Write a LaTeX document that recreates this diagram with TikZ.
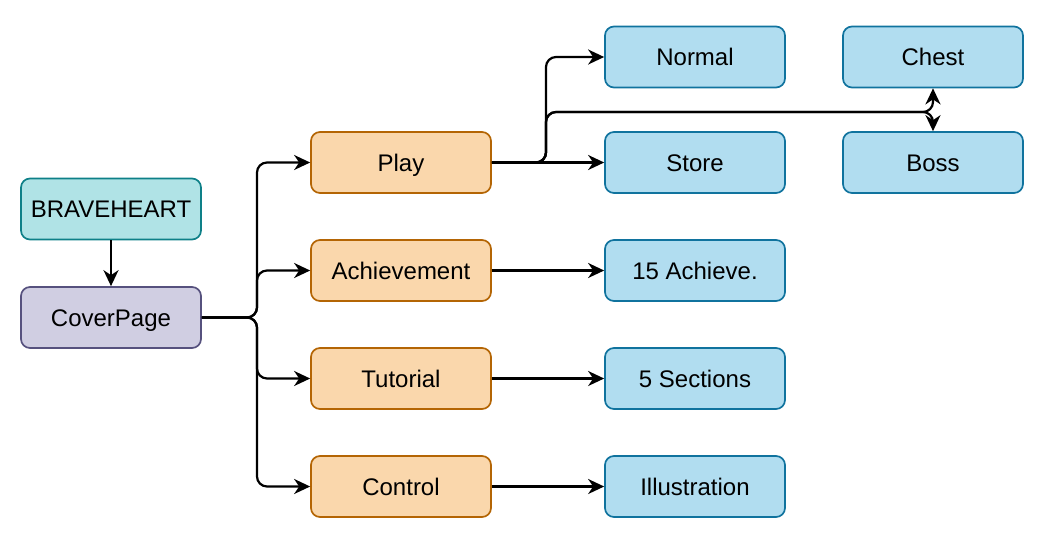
\documentclass[tikz,border=0pt]{standalone}
\usepackage{fontspec}
\setmainfont{Liberation Sans}
\usetikzlibrary{arrows.meta,calc}
\definecolor{tealF}{HTML}{B0E3E6}
\definecolor{tealD}{HTML}{0E8088}
\definecolor{purpF}{HTML}{D0CEE2}
\definecolor{purpD}{HTML}{56517E}
\definecolor{orF}{HTML}{FAD7AC}
\definecolor{orD}{HTML}{B46504}
\definecolor{blF}{HTML}{B1DDF0}
\definecolor{blD}{HTML}{10739E}
\begin{document}
\begin{tikzpicture}[x=1pt,y=-1pt,
  box/.style={draw, rounded corners=9pt, line width=1.7pt, minimum width=180pt, minimum height=61pt, inner sep=0pt, text height=17pt, text depth=0pt, font=\fontsize{24}{28}\selectfont},
  tealbox/.style={box, fill=tealF, draw=tealD},
  purpbox/.style={box, fill=purpF, draw=purpD},
  orbox/.style={box, fill=orF, draw=orD},
  blbox/.style={box, fill=blF, draw=blD},
  conn/.style={line width=2.2pt, rounded corners=10pt, -{Stealth[length=16pt,width=15pt,inset=5pt]}}
]
\useasboundingbox (0,0) rectangle (1045,558);
\node[tealbox] (brave) at (111,209) {BRAVEHEART};
\node[purpbox] (cover) at (111,317.5) {CoverPage};
\node[orbox] (play) at (401,162.5) {Play};
\node[orbox] (ach) at (401,270.5) {Achievement};
\node[orbox] (tut) at (401,378.5) {Tutorial};
\node[orbox] (ctrl) at (401,486.5) {Control};
\node[blbox] (normal) at (695,57) {Normal};
\node[blbox] (store) at (695,162.5) {Store};
\node[blbox] (ach15) at (695,270.5) {15 Achieve.};
\node[blbox] (sec) at (695,378.5) {5 Sections};
\node[blbox] (illu) at (695,486.5) {Illustration};
\node[blbox] (chest) at (933,57) {Chest};
\node[blbox] (boss) at (933,162.5) {Boss};
\coordinate (j1) at (257,317.5);
\coordinate (j2) at (546,162.5);
\coordinate (cb) at (933,112);
\draw[conn] (brave) -- (cover);
\draw[conn] (cover.east) -- (j1) |- (play.west);
\draw[conn] (cover.east) -- (j1) |- (ach.west);
\draw[conn] (cover.east) -- (j1) |- (tut.west);
\draw[conn] (cover.east) -- (j1) |- (ctrl.west);
\draw[conn] (play.east) -- (store.west);
\draw[conn] (play.east) -- (j2) |- (normal.west);
\draw[conn] (play.east) -- (j2) |- (cb) -- (chest.south);
\draw[conn] (play.east) -- (j2) |- (cb) -- (boss.north);
\draw[conn] (ach.east) -- (ach15.west);
\draw[conn] (tut.east) -- (sec.west);
\draw[conn] (ctrl.east) -- (illu.west);
\end{tikzpicture}
\end{document}
